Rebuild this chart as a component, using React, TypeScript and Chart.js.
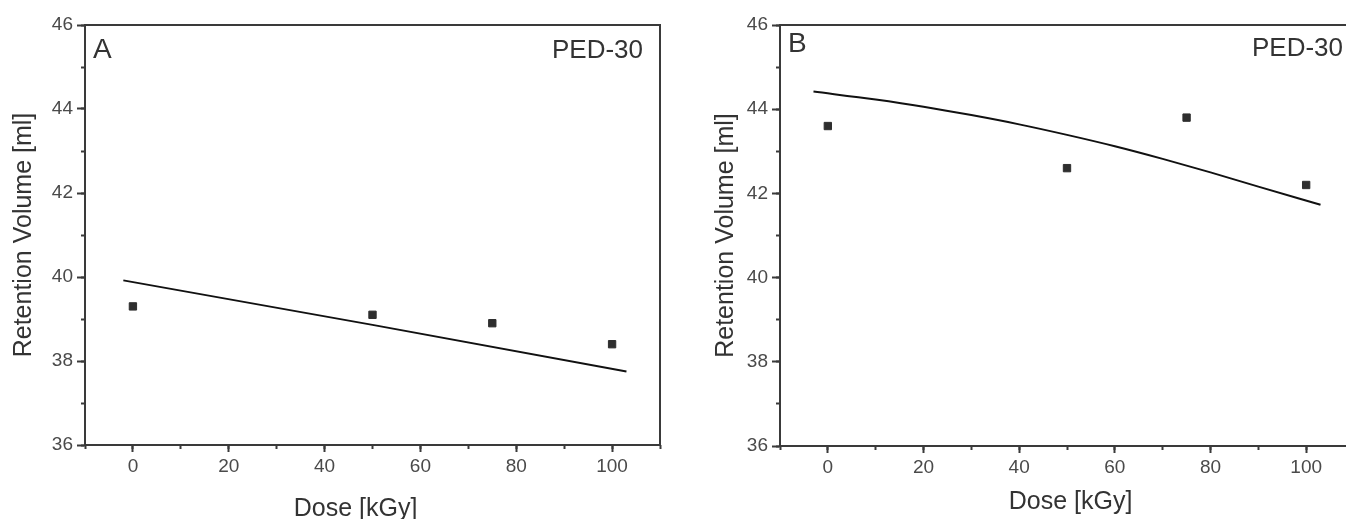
import React, { useEffect, useRef } from 'react';
import { Chart, registerables } from 'chart.js';

Chart.register(...registerables);

// ---------- data ----------
const doseA = [0, 50, 75, 100];
const volumeA = [39.3, 39.1, 38.9, 38.4];
const fitDoseA = [-2, 50, 103];
const fitVolumeA = [39.92, 38.86, 37.75];

const doseB = [0, 50, 75, 100];
const volumeB = [43.6, 42.6, 43.8, 42.2];
const fitDoseB = [-3, 10, 20, 30, 40, 50, 60, 70, 80, 90, 103];
const fitVolumeB = [44.42, 44.23, 44.06, 43.86, 43.64, 43.39, 43.12, 42.82, 42.5, 42.16, 41.73];

const xMajorTicks = [0, 20, 40, 60, 80, 100];
const xMinorTicks = [-10, 0, 10, 20, 30, 40, 50, 60, 70, 80, 90, 100, 110];
const yMajorTicks = [36, 38, 40, 42, 44, 46];
const yMinorTicks = [36, 37, 38, 39, 40, 41, 42, 43, 44, 45, 46];

const panelLetters = ['A', 'B'];
const sampleLabel = 'PED-30';
const xTitle = 'Dose [kGy]';
const yTitle = 'Retention Volume [ml]';

const FONT = "'Liberation Sans', Arial, Helvetica, sans-serif";
const AXIS = '#3a3a3a';
const TICKTEXT = '#4a4a4a';
const TEXT = '#333333';
const MARK = '#2e2e2e';

const panelText = {
  id: 'panelText',
  afterDraw(chart: any, _args: any, opts: any) {
    const ctx = chart.ctx;
    const area = chart.chartArea;
    ctx.save();
    ctx.fillStyle = TEXT;
    ctx.textBaseline = 'alphabetic';
    ctx.font = `28px ${FONT}`;
    ctx.textAlign = 'left';
    ctx.fillText(opts.letter, area.left + opts.letterDx, area.top + opts.letterDy);
    ctx.font = `26px ${FONT}`;
    ctx.textAlign = 'right';
    ctx.fillText(opts.tag, area.right - opts.tagDx, area.top + opts.tagDy);
    ctx.font = `25px ${FONT}`;
    ctx.textAlign = 'center';
    ctx.fillText(opts.xTitle, opts.xTitleX, opts.xTitleY);
    ctx.restore();
  },
};

type PanelProps = {
  left: number;
  width: number;
  yAxisWidth: number;
  xAxisHeight: number;
  padRight: number;
  yTitlePad: number;
  dose: number[];
  volume: number[];
  fitDose: number[];
  fitVolume: number[];
  smooth: boolean;
  text: any;
};

function Panel(p: PanelProps) {
  const ref = useRef<HTMLCanvasElement | null>(null);
  useEffect(() => {
    if (!ref.current) return;
    const frameAxis = (position: string) => ({
      type: 'linear',
      position,
      min: position === 'top' ? -10 : 36,
      max: position === 'top' ? 110 : 46,
      ticks: { display: false },
      grid: { display: false },
      border: { display: true, color: AXIS, width: 2 },
      afterBuildTicks: (s: any) => { s.ticks = []; },
      afterFit: (s: any) => {
        if (position === 'top') s.height = 0; else s.width = 0;
      },
    });
    const chart = new Chart(ref.current, {
      type: 'scatter',
      data: {
        datasets: [
          {
            label: 'measured',
            data: p.dose.map((d, i) => ({ x: d, y: p.volume[i] })),
            pointStyle: 'rect',
            pointRadius: 5.2,
            pointBorderWidth: 1,
            backgroundColor: MARK,
            borderColor: MARK,
            showLine: false,
          },
          {
            label: 'fit',
            data: p.fitDose.map((d, i) => ({ x: d, y: p.fitVolume[i] })),
            showLine: true,
            pointRadius: 0,
            borderColor: '#111111',
            borderWidth: 2,
            cubicInterpolationMode: p.smooth ? 'monotone' : 'default',
            tension: 0,
            fill: false,
          },
        ],
      },
      options: {
        responsive: false,
        animation: false,
        devicePixelRatio: 1,
        layout: { padding: { top: 25, right: p.padRight, left: 0, bottom: 0 } },
        plugins: {
          legend: { display: false },
          tooltip: { enabled: false },
          panelText: p.text,
        } as any,
        scales: {
          x: {
            type: 'linear',
            position: 'bottom',
            weight: 1,
            min: -10,
            max: 110,
            afterBuildTicks: (s: any) => { s.ticks = xMajorTicks.map((v) => ({ value: v })); },
            afterFit: (s: any) => { s.height = p.xAxisHeight; },
            ticks: {
              color: TICKTEXT,
              font: { family: FONT, size: 19 },
              padding: 3,
              maxRotation: 0,
              autoSkip: false,
            },
            grid: { drawOnChartArea: false, drawTicks: true, tickLength: 7, tickColor: AXIS, tickWidth: 2 },
            border: { display: true, color: AXIS, width: 2 },
          },
          xMinor: {
            type: 'linear',
            position: 'bottom',
            weight: 0,
            min: -10,
            max: 110,
            afterBuildTicks: (s: any) => { s.ticks = xMinorTicks.map((v) => ({ value: v })); },
            afterFit: (s: any) => { s.height = 0; },
            ticks: { display: false },
            grid: { drawOnChartArea: false, drawTicks: true, tickLength: 4, tickColor: AXIS, tickWidth: 2 },
            border: { display: false },
          },
          y: {
            type: 'linear',
            position: 'left',
            weight: 1,
            min: 36,
            max: 46,
            afterBuildTicks: (s: any) => { s.ticks = yMajorTicks.map((v) => ({ value: v })); },
            afterFit: (s: any) => { s.width = p.yAxisWidth; },
            ticks: {
              color: TICKTEXT,
              font: { family: FONT, size: 19 },
              padding: 4,
            },
            grid: { drawOnChartArea: false, drawTicks: true, tickLength: 8, tickColor: AXIS, tickWidth: 2 },
            border: { display: true, color: AXIS, width: 2 },
            title: {
              display: true,
              text: yTitle,
              color: TEXT,
              font: { family: FONT, size: 25 },
              padding: { top: p.yTitlePad, bottom: 0 },
            },
          },
          yMinor: {
            type: 'linear',
            position: 'left',
            weight: 0,
            min: 36,
            max: 46,
            afterBuildTicks: (s: any) => { s.ticks = yMinorTicks.map((v) => ({ value: v })); },
            afterFit: (s: any) => { s.width = 0; },
            ticks: { display: false },
            grid: { drawOnChartArea: false, drawTicks: true, tickLength: 4, tickColor: AXIS, tickWidth: 2 },
            border: { display: false },
          },
          xTop: frameAxis('top'),
          yRight: frameAxis('right'),
        } as any,
      },
      plugins: [panelText],
    } as any);
    return () => chart.destroy();
  }, []);
  return (
    <canvas
      ref={ref}
      width={p.width}
      height={519}
      style={{ position: 'absolute', left: p.left, top: 0, width: p.width, height: 519 }}
    />
  );
}

export default function App() {
  return (
    <div
      style={{
        position: 'fixed',
        left: 0,
        top: 0,
        width: 1346,
        height: 519,
        overflow: 'hidden',
        background: '#ffffff',
      }}
    >
      <Panel
        left={0}
        width={680}
        yAxisWidth={85}
        xAxisHeight={74}
        padRight={20}
        yTitlePad={9.3}
        dose={doseA}
        volume={volumeA}
        fitDose={fitDoseA}
        fitVolume={fitVolumeA}
        smooth={false}
        text={{
          letter: panelLetters[0],
          tag: sampleLabel,
          xTitle,
          letterDx: 8,
          letterDy: 32.5,
          tagDx: 17,
          tagDy: 33,
          xTitleX: 355.5,
          xTitleY: 515.5,
        }}
      />
      <Panel
        left={690}
        width={674}
        yAxisWidth={90}
        xAxisHeight={73}
        padRight={10}
        yTitlePad={20.7}
        dose={doseB}
        volume={volumeB}
        fitDose={fitDoseB}
        fitVolume={fitVolumeB}
        smooth={true}
        text={{
          letter: panelLetters[1],
          tag: sampleLabel,
          xTitle,
          letterDx: 8,
          letterDy: 27,
          tagDx: 11,
          tagDy: 31,
          xTitleX: 380.5,
          xTitleY: 509,
        }}
      />
    </div>
  );
}
